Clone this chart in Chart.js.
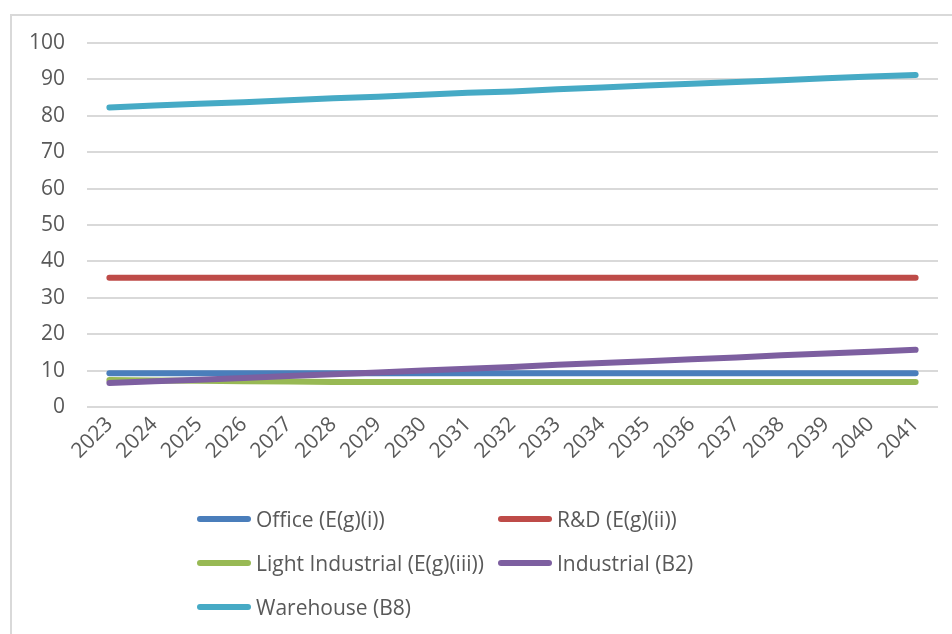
<!DOCTYPE html>
<html>
<head>
<meta charset="utf-8">
<script src="https://cdn.jsdelivr.net/npm/chart.js@4/dist/chart.umd.min.js"></script>
<style>
  html, body { margin: 0; padding: 0; background: #ffffff; }
  body { width: 952px; height: 634px; position: relative; overflow: hidden; font-family: "Open Sans", sans-serif; }
  #frame { position: absolute; left: 10px; top: 14px; width: 960px; height: 640px;
           border-top: 2px solid #d9d9d9; border-left: 2px solid #d9d9d9; box-sizing: border-box; }
  #wrap { position: absolute; left: 0; top: 0; width: 952px; height: 480px; }
  #legend { position: absolute; left: 0; top: 0; width: 952px; height: 634px; pointer-events: none; }
  .item { position: absolute; display: flex; align-items: center; font-size: 21px; color: #595959; white-space: nowrap; }
  .item .swatch { width: 54px; height: 6px; border-radius: 3px; margin-right: 5px; }
</style>
</head>
<body>
<div id="frame"></div>
<div id="wrap"><canvas id="c" width="952" height="480"></canvas></div>
<div id="legend"></div>
<script>
const years = ['2023','2024','2025','2026','2027','2028','2029','2030','2031','2032',
               '2033','2034','2035','2036','2037','2038','2039','2040','2041'];

const office     = [9.3, 9.3, 9.3, 9.3, 9.3, 9.3, 9.3, 9.3, 9.3, 9.3, 9.3, 9.3, 9.3, 9.3, 9.3, 9.3, 9.3, 9.3, 9.3];
const rnd        = [35.5, 35.5, 35.5, 35.5, 35.5, 35.5, 35.5, 35.5, 35.5, 35.5, 35.5, 35.5, 35.5, 35.5, 35.5, 35.5, 35.5, 35.5, 35.5];
const lightInd   = [7.4, 7.3, 7.2, 7.1, 7.0, 6.9, 6.9, 6.9, 6.9, 6.9, 6.9, 6.9, 6.9, 6.9, 6.9, 6.9, 6.9, 6.9, 6.9];
const industrial = [6.6, 7.1, 7.5, 8.0, 8.5, 9.0, 9.5, 10.0, 10.5, 11.0, 11.6, 12.1, 12.6, 13.1, 13.6, 14.2, 14.7, 15.2, 15.7];
const warehouse  = [82.3, 82.8, 83.3, 83.7, 84.3, 84.8, 85.2, 85.8, 86.3, 86.7, 87.3, 87.8, 88.3, 88.8, 89.3, 89.8, 90.3, 90.8, 91.2];

const seriesNames  = ['Office (E(g)(i))', 'R&D (E(g)(ii))', 'Light Industrial (E(g)(iii))', 'Industrial (B2)', 'Warehouse (B8)'];
const seriesValues = [office, rnd, lightInd, industrial, warehouse];
const seriesColors = ['#4a7ebb', '#be4b48', '#98b954', '#7d5fa0', '#46aac5'];

const yTicks = { min: 0, max: 100, step: 10 };

const textColor = '#595959';
const fontFamily = '"Open Sans", sans-serif';

const datasets = seriesNames.map((name, i) => ({
  label: name,
  data: seriesValues[i],
  borderColor: seriesColors[i],
  backgroundColor: seriesColors[i],
  borderWidth: 6,
  borderCapStyle: 'round',
  borderJoinStyle: 'round',
  pointRadius: 0,
  pointHoverRadius: 0,
  tension: 0,
  fill: false,
  // later series are painted over earlier ones
  order: seriesNames.length - i
}));

const chart = new Chart(document.getElementById('c'), {
  type: 'line',
  data: { labels: years, datasets },
  options: {
    responsive: false,
    animation: false,
    events: [],
    layout: { padding: { top: 43, right: 14, left: 0, bottom: 0 } },
    plugins: { legend: { display: false }, tooltip: { enabled: false } },
    scales: {
      x: {
        offset: true,
        grid: { display: false, drawTicks: false },
        border: { display: false },
        ticks: {
          color: textColor,
          font: { family: fontFamily, size: 21 },
          minRotation: 45,
          maxRotation: 45,
          autoSkip: false,
          padding: 5
        },
        afterFit: (s) => { s.height = 73; }
      },
      y: {
        min: yTicks.min,
        max: yTicks.max,
        grid: { color: '#d9d9d9', lineWidth: 2, drawTicks: false },
        border: { display: false },
        ticks: {
          stepSize: yTicks.step,
          color: textColor,
          font: { family: fontFamily, size: 21 },
          padding: 22
        },
        afterFit: (s) => { s.width = 87; }
      }
    }
  }
});

// Two-column legend under the plot
const legendSlots = [
  { x: 197, y: 519 }, { x: 498, y: 519 },
  { x: 197, y: 563 }, { x: 498, y: 563 },
  { x: 197, y: 607 }
];
const legendEl = document.getElementById('legend');
chart.data.datasets.forEach((ds, i) => {
  const item = document.createElement('div');
  item.className = 'item';
  item.style.left = legendSlots[i].x + 'px';
  item.style.top = (legendSlots[i].y - 15) + 'px';
  item.style.height = '30px';
  const sw = document.createElement('span');
  sw.className = 'swatch';
  sw.style.background = ds.borderColor;
  const tx = document.createElement('span');
  tx.textContent = ds.label;
  item.appendChild(sw);
  item.appendChild(tx);
  legendEl.appendChild(item);
});
</script>
</body>
</html>
